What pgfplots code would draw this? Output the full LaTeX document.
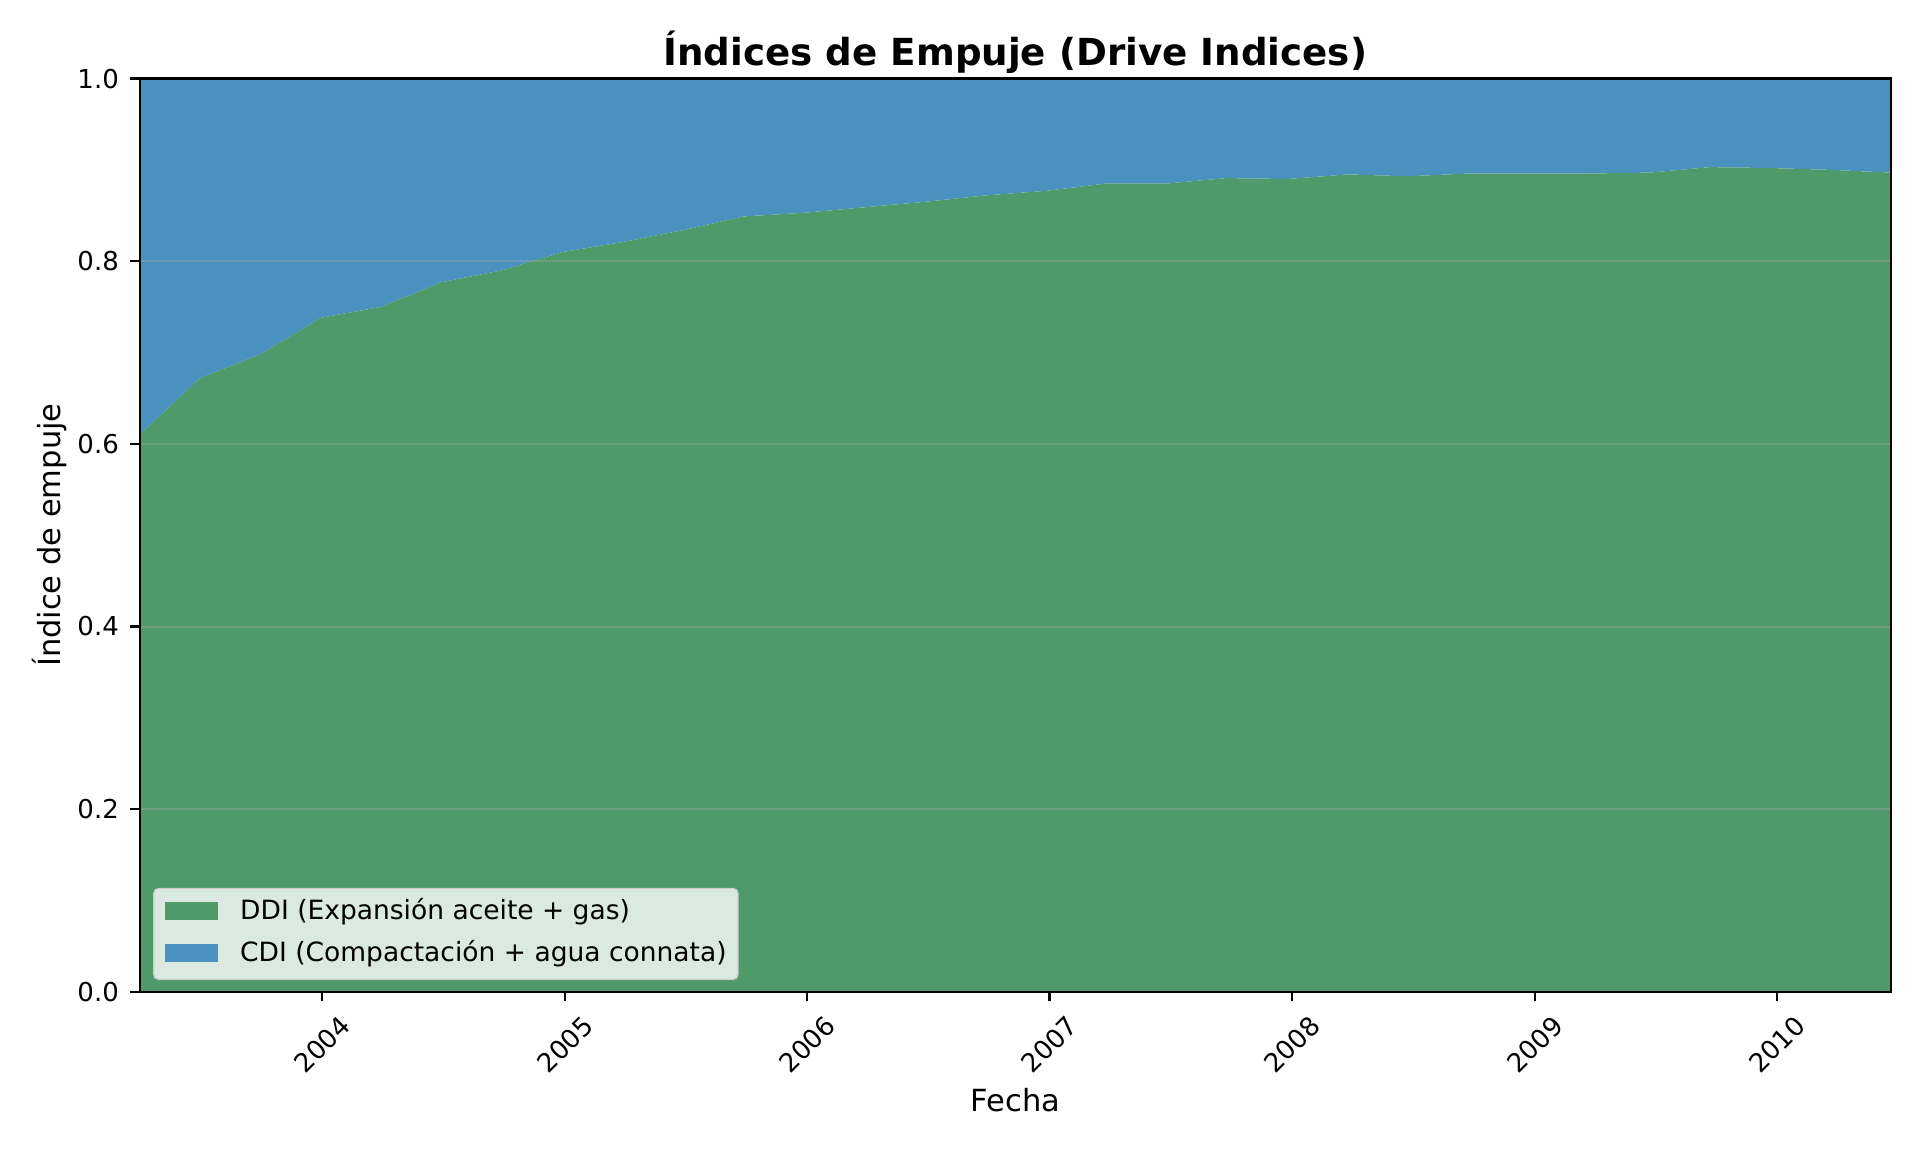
\documentclass[border=0pt]{standalone}
\usepackage{fontspec}
\setmainfont{DejaVu Sans}
\usepackage{graphicx}
\usepackage{pgfplots}
\usepackage{pgfplotstable}
\pgfplotsset{compat=1.18}
\definecolor{ddi}{HTML}{4E9A6A}
\definecolor{cdi}{HTML}{4A91C0}
\definecolor{gridc}{HTML}{B0B0B0}
\pgfplotstableread[row sep=\\]{
x y\\
90 0.610\\ 181 0.672\\ 272 0.698\\ 363 0.738\\ 454 0.750\\ 545 0.777\\
636 0.790\\ 727 0.810\\ 818 0.821\\ 909 0.834\\ 1000 0.849\\ 1091 0.853\\
1182 0.859\\ 1273 0.865\\ 1364 0.872\\ 1455 0.877\\ 1546 0.885\\ 1637 0.885\\
1728 0.891\\ 1819 0.890\\ 1910 0.895\\ 2001 0.893\\ 2092 0.896\\ 2183 0.896\\
2274 0.896\\ 2365 0.897\\ 2456 0.903\\ 2547 0.902\\ 2638 0.900\\ 2729 0.897\\
}\ddidata
\pgfplotstableread[row sep=\\]{
x y\\
90 0.390\\ 181 0.328\\ 272 0.302\\ 363 0.262\\ 454 0.250\\ 545 0.223\\
636 0.210\\ 727 0.190\\ 818 0.179\\ 909 0.166\\ 1000 0.151\\ 1091 0.147\\
1182 0.141\\ 1273 0.135\\ 1364 0.128\\ 1455 0.123\\ 1546 0.115\\ 1637 0.115\\
1728 0.109\\ 1819 0.110\\ 1910 0.105\\ 2001 0.107\\ 2092 0.104\\ 2183 0.104\\
2274 0.104\\ 2365 0.103\\ 2456 0.097\\ 2547 0.098\\ 2638 0.100\\ 2729 0.103\\
}\cdidata
\begin{document}
\begin{tikzpicture}[x=1pt,y=1pt]
\useasboundingbox (-55.84,-64.08) rectangle (712.16,396.72);
\begin{axis}[
  at={(0,0)}, anchor=south west, scale only axis,
  width=700.6pt, height=365.3pt,
  xmin=90, xmax=2729, ymin=0, ymax=1,
  stack plots=y,
  axis on top,
  axis line style={line width=0.85pt, black},
  tick style={line width=0.85pt, black},
  tick align=outside, major tick length=3.7pt,
  xtick pos=bottom, ytick pos=left,
  xtick={365,731,1096,1461,1826,2192,2557},
  xticklabels={\rotatebox{45}{2004},\rotatebox{45}{2005},\rotatebox{45}{2006},\rotatebox{45}{2007},\rotatebox{45}{2008},\rotatebox{45}{2009},\rotatebox{45}{2010}},
  ytick={0,0.2,0.4,0.6,0.8,1},
  yticklabels={0.0,0.2,0.4,0.6,0.8,1.0},
  ticklabel style={font=\fontsize{10.4}{12}\selectfont},
  xticklabel style={anchor=north, inner sep=0pt, yshift=-5pt},
  yticklabel style={anchor=east, inner sep=0pt, xshift=-4.4pt},
  ymajorgrids, xmajorgrids=false,
  major grid style={gridc, opacity=0.3, line width=0.8pt},
  title={Índices de Empuje (Drive Indices)},
  title style={font=\bfseries\fontsize{14.9}{17}\selectfont, at={(axis description cs:0.5,1)}, anchor=base, yshift=-0.9pt, inner sep=0pt},
  xlabel={Fecha},
  xlabel style={font=\fontsize{12.2}{14}\selectfont, at={(axis description cs:0.5,0)}, anchor=base, yshift=-48pt, inner sep=0pt},
  ylabel={Índice de empuje},
  ylabel style={font=\fontsize{12.2}{14}\selectfont, at={(axis description cs:-0.0415,0.5)}, anchor=south, inner sep=0pt},
  legend style={at={(axis description cs:0,0)}, anchor=south west, xshift=5.4pt, yshift=4.7pt,
    fill=white, fill opacity=0.8, text opacity=1, draw=black!20, line width=0.5pt, rounded corners=2pt,
    inner xsep=4.6pt, inner ysep=4.5pt, row sep=6.4pt, column sep=8.8pt,
    font=\fontsize{10.6}{12}\selectfont,
    nodes={inner sep=0pt, text height=8pt, text depth=2.5pt}},
  legend cell align=left,
  legend image code/.code={\fill[#1, fill opacity=1, sharp corners] (0pt,-2.7pt) rectangle (21.2pt,4.5pt);},
]
\addplot[fill=ddi, draw=none] table {\ddidata} \closedcycle;
\addlegendentry{DDI (Expansión aceite + gas)}
\addplot[fill=cdi, draw=none] table {\cdidata} \closedcycle;
\addlegendentry{CDI (Compactación + agua connata)}
\addplot[stack plots=false, forget plot, white, opacity=0.3, line width=0.5pt] table {\ddidata};
\addplot[stack plots=false, forget plot, red, opacity=0.5, line width=1pt, dash pattern=on 4.4pt off 1.9pt] coordinates {(90,1) (2729,1)};
\end{axis}
\end{tikzpicture}
\end{document}
